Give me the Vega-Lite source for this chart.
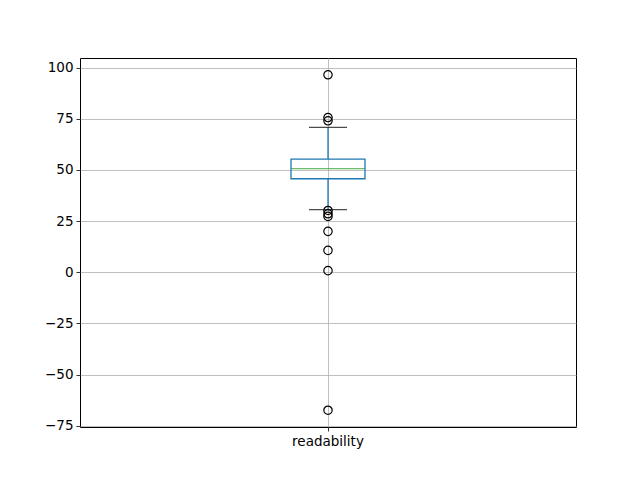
{
  "$schema": "https://vega.github.io/schema/vega-lite/v6.json",
  "width": 496,
  "height": 369,
  "autosize": "none",
  "padding": {"left": 80, "top": 58, "right": 64, "bottom": 53},
  "background": "white",
  "config": {
    "view": {"stroke": "black", "strokeWidth": 1},
    "axis": {
      "labelFont": "DejaVu Sans", "labelFontSize": 13.5, "labelColor": "black",
      "tickColor": "black", "tickSize": 4, "tickWidth": 0.8,
      "domain": false,
      "gridColor": "#b0b0b0", "gridWidth": 0.8, "gridOpacity": 1,
      "title": null, "labelPadding": 3
    }
  },
  "datasets": {
    "summary": [
      {"variable": "readability", "lower": 30.6, "q1": 45.7, "median": 50.6, "q3": 55.3, "upper": 70.8}
    ],
    "outliers": [
      {"variable": "readability", "value": 96.5},
      {"variable": "readability", "value": 75.6},
      {"variable": "readability", "value": 74.0},
      {"variable": "readability", "value": 30.2},
      {"variable": "readability", "value": 28.6},
      {"variable": "readability", "value": 27.3},
      {"variable": "readability", "value": 20.0},
      {"variable": "readability", "value": 10.7},
      {"variable": "readability", "value": 0.8},
      {"variable": "readability", "value": -67.4}
    ]
  },
  "encoding": {
    "x": {
      "field": "variable", "type": "nominal",
      "axis": {"labelAngle": 0, "grid": true, "bandPosition": 0.5}
    }
  },
  "layer": [
    {
      "data": {"name": "summary"},
      "mark": {"type": "rule", "color": "#1f77b4", "strokeWidth": 1.3},
      "encoding": {
        "y": {"field": "q3", "type": "quantitative", "scale": {"domain": [-75.6, 104.7], "nice": false, "zero": false},
              "axis": {"values": [-75, -50, -25, 0, 25, 50, 75, 100], "grid": true}},
        "y2": {"field": "upper"}
      }
    },
    {
      "data": {"name": "summary"},
      "mark": {"type": "rule", "color": "#1f77b4", "strokeWidth": 1.3},
      "encoding": {
        "y": {"field": "lower", "type": "quantitative"},
        "y2": {"field": "q1"}
      }
    },
    {
      "data": {"name": "summary"},
      "mark": {"type": "bar", "width": 74, "fill": "white", "fillOpacity": 0, "stroke": "#1f77b4", "strokeWidth": 1.3},
      "encoding": {
        "y": {"field": "q1", "type": "quantitative"},
        "y2": {"field": "q3"}
      }
    },
    {
      "data": {"name": "summary"},
      "mark": {"type": "tick", "color": "#2ca02c", "size": 74, "thickness": 1.3, "orient": "horizontal"},
      "encoding": {"y": {"field": "median", "type": "quantitative"}}
    },
    {
      "data": {"name": "summary"},
      "mark": {"type": "tick", "color": "black", "size": 38, "thickness": 1.3, "orient": "horizontal"},
      "encoding": {"y": {"field": "upper", "type": "quantitative"}}
    },
    {
      "data": {"name": "summary"},
      "mark": {"type": "tick", "color": "black", "size": 38, "thickness": 1.3, "orient": "horizontal"},
      "encoding": {"y": {"field": "lower", "type": "quantitative"}}
    },
    {
      "data": {"name": "outliers"},
      "mark": {"type": "point", "shape": "circle", "filled": false, "stroke": "black", "strokeWidth": 1.2, "opacity": 1, "size": 70},
      "encoding": {"y": {"field": "value", "type": "quantitative"}}
    }
  ]
}
